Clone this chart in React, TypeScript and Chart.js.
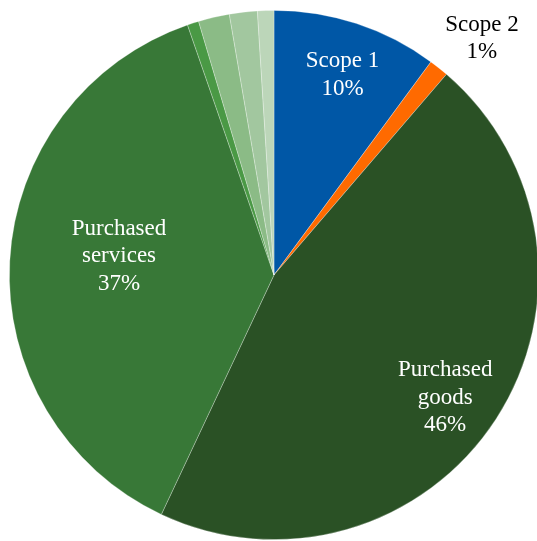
import React, { useEffect, useRef } from "react";
import { Chart, registerables } from "chart.js";

Chart.register(...registerables);

const categories = [
  "Scope 1",
  "Scope 2",
  "Purchased goods",
  "Purchased services",
  "Other 1",
  "Other 2",
  "Other 3",
  "Other 4",
];
const values = [10.1, 1.2, 45.7, 37.7, 0.7, 1.9, 1.7, 1.0];
const colors = [
  "#0057A6",
  "#FF6A00",
  "#2A5125",
  "#387837",
  "#4A9945",
  "#8BBB86",
  "#A2C79F",
  "#BCD6B9",
];
const labelLines: (string[] | null)[] = [
  ["Scope 1", "10%"],
  ["Scope 2", "1%"],
  ["Purchased", "goods", "46%"],
  ["Purchased", "services", "37%"],
  null,
  null,
  null,
  null,
];
const labelColors = ["#ffffff", "#000000", "#ffffff", "#ffffff"];
const labelRadius = [0.8, 1.19, 0.796, 0.59];
const labelAngleOffset = [0.7, 2.8, 2.7, 3.8];

const labelPlugin = {
  id: "sliceLabels",
  afterDatasetsDraw(chart: any) {
    const ctx = chart.ctx;
    const meta = chart.getDatasetMeta(0);
    ctx.save();
    ctx.font = '23px "Liberation Serif", "Times New Roman", serif';
    ctx.textAlign = "center";
    ctx.textBaseline = "middle";
    meta.data.forEach((arc: any, i: number) => {
      const lines = labelLines[i];
      if (!lines) return;
      const p = arc.getProps(["x", "y", "startAngle", "endAngle", "outerRadius"], true);
      const mid = (p.startAngle + p.endAngle) / 2 + (labelAngleOffset[i] * Math.PI) / 180;
      const r = p.outerRadius * labelRadius[i];
      const cx = p.x + Math.cos(mid) * r;
      const cy = p.y + Math.sin(mid) * r;
      const lh = 27.5;
      const startY = cy - ((lines.length - 1) * lh) / 2;
      ctx.fillStyle = labelColors[i];
      lines.forEach((t, k) => ctx.fillText(t, cx, startY + k * lh));
    });
    ctx.restore();
  },
};

export default function App() {
  const ref = useRef<HTMLCanvasElement>(null);
  useEffect(() => {
    if (!ref.current) return;
    const chart = new Chart(ref.current, {
      type: "pie",
      data: {
        labels: categories,
        datasets: [
          {
            data: values,
            backgroundColor: colors,
            borderColor: "rgba(255,255,255,0.35)",
            borderWidth: 0.8,
          },
        ],
      },
      options: {
        responsive: false,
        animation: false,
        devicePixelRatio: 1,
        layout: { padding: { left: 9, top: 10, right: 9, bottom: 10 } },
        plugins: {
          legend: { display: false },
          tooltip: { enabled: false },
        },
      },
      plugins: [labelPlugin],
    });
    return () => chart.destroy();
  }, []);
  return (
    <div
      style={{
        position: "absolute",
        left: 0,
        top: 0,
        width: 537,
        height: 541,
        overflow: "hidden",
        background: "#ffffff",
      }}
    >
      <canvas ref={ref} width={548} height={550} style={{ display: "block" }} />
    </div>
  );
}
